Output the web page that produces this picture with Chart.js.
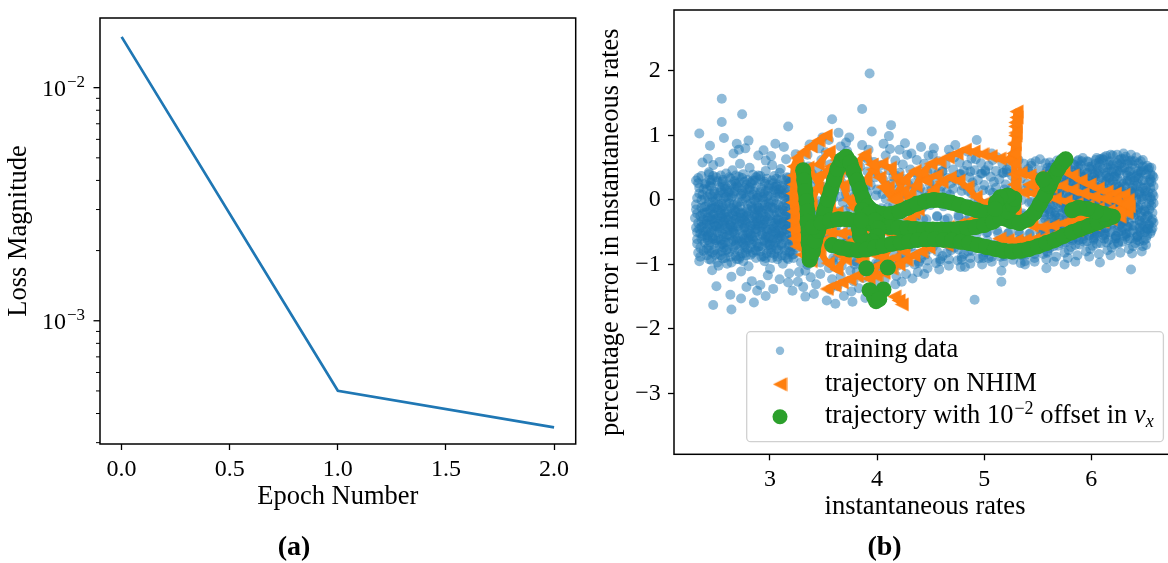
<!DOCTYPE html>
<html>
<head>
<meta charset="utf-8">
<script src="https://cdn.jsdelivr.net/npm/chart.js@4.4.1/dist/chart.umd.min.js"></script>
<style>
  html, body { margin: 0; padding: 0; background: #fff; }
  #wrap { position: relative; width: 1168px; height: 563px; overflow: hidden; }
  #lossChart { position: absolute; left: 0; top: 0; }
  #rateChart { position: absolute; left: 590px; top: 0; }
</style>
</head>
<body>
<div id="wrap">
  <canvas id="lossChart" width="600" height="563"></canvas>
  <canvas id="rateChart" width="600" height="563"></canvas>
</div>
<script>
const SERIF = "'Liberation Serif', 'Times New Roman', serif";
const TEXT_SIZE = 26.5;
Chart.defaults.font.family = SERIF;
Chart.defaults.font.size = 24;
Chart.defaults.color = '#000';

// ---- (a) training loss ----
const epochs = [0, 1, 2];
const lossValues = [0.01652, 0.000501, 0.000349];
const epochTicks = [0, 0.5, 1, 1.5, 2];
const lossMajorTicks = [1e-3, 1e-2];
const lossMinorTicks = [3e-4, 4e-4, 5e-4, 6e-4, 7e-4, 8e-4, 9e-4,
                        2e-3, 3e-3, 4e-3, 5e-3, 6e-3, 7e-3, 8e-3, 9e-3];

// ---- (b) percentage error vs instantaneous rate ----
const rateTicks = [3, 4, 5, 6];
const errorTicks = [-3, -2, -1, 0, 1, 2];

const trainingPoints = [
  [2.31,-0.07],[2.33,-0.36],[2.32,-0.61],[2.34,0.19],[2.35,-0.74],[2.36,0.37],[2.37,-0.22],[2.38,-0.49],[2.39,0.02],[2.35,-0.88],[2.38,-0.31],[2.33,0.26],[2.34,1.03],[2.37,0.58],[2.31,-0.43],[2.36,-0.12],
  [2.41,-0.58],[2.44,0.09],[2.42,-0.27],[2.43,0.43],[2.47,-0.13],[2.45,-0.93],[2.41,-0.19],[2.48,-0.47],[2.46,0.31],[2.43,-0.79],[2.49,-0.02],[2.44,-0.38],[2.46,-1.09],[2.42,0.64],[2.48,-0.68],[2.45,0.2],[2.41,-0.86],[2.47,0.54],[2.44,0.84],[2.47,-1.63],[2.49,-0.29],[2.43,-0.52],
  [2.52,-0.24],[2.51,0.29],[2.55,-0.69],[2.57,0.03],[2.53,-0.44],[2.58,0.17],[2.56,-0.91],[2.51,-0.15],[2.59,0.41],[2.54,-0.33],[2.52,-1.02],[2.57,-0.57],[2.55,-0.06],[2.53,0.59],[2.59,-0.78],[2.56,0.24],[2.5,-1.34],[2.58,-0.4],[2.55,1.57],[2.55,1.21],[2.57,0.96],[2.54,-0.62],[2.51,-0.83],
  [2.63,-0.39],[2.61,0.11],[2.66,-0.73],[2.62,0.35],[2.68,-0.18],[2.64,-0.97],[2.67,-0.3],[2.69,0.22],[2.6,-0.54],[2.65,0.46],[2.62,-0.05],[2.68,-0.87],[2.64,-1.19],[2.66,0.72],[2.61,-0.26],[2.69,-0.63],[2.63,-1.47],[2.67,0.13],[2.64,-1.7],[2.69,0.87],[2.6,-0.99],[2.66,-0.45],
  [2.72,-0.21],[2.76,-0.6],[2.71,0.27],[2.74,-0.83],[2.78,0.04],[2.7,-0.41],[2.75,0.4],[2.73,-1.11],[2.79,-0.14],[2.77,-0.71],[2.72,0.56],[2.76,-0.32],[2.78,-1.35],[2.71,0.78],[2.74,0.14],[2.79,-0.51],[2.73,-1.53],[2.75,-0.95],[2.74,1.33],[2.77,0.8],[2.7,-0.04],[2.78,-0.25],
  [2.84,-0.37],[2.81,0.16],[2.87,-0.79],[2.83,-0.1],[2.89,0.38],[2.82,-0.53],[2.86,-0.23],[2.8,-1.03],[2.88,0.07],[2.85,-0.64],[2.81,0.5],[2.87,-0.45],[2.83,-1.26],[2.89,0.69],[2.86,-0.01],[2.82,-0.85],[2.88,-1.41],[2.84,0.3],[2.8,0.92],[2.86,-0.58],[2.85,-1.59],[2.89,-0.17],
  [2.93,-0.16],[2.97,-0.67],[2.91,0.32],[2.95,-0.95],[2.99,-0.05],[2.92,-0.42],[2.96,0.45],[2.98,-1.17],[2.9,-0.28],[2.94,0.1],[2.99,-0.76],[2.93,-0.54],[2.96,0.61],[2.91,-1.32],[2.98,-0.11],[2.95,0.25],[2.97,-0.34],[2.92,-0.88],[2.94,0.77],[2.96,-1.49],[2.99,0.18],
  [3.02,-0.49],[3.06,0.21],[3.01,-0.82],[3.04,-0.13],[3.09,0.42],[3.03,-0.6],[3.07,-0.3],[3.0,-1.07],[3.05,0.05],[3.08,-0.71],[3.02,0.54],[3.06,-0.38],[3.09,-1.23],[3.01,0.68],[3.04,0.15],[3.07,-0.92],[3.03,-1.38],[3.08,-0.08],[3.05,0.87],[3.0,-0.56],[3.06,-0.2],
  [3.14,-0.25],[3.11,-0.68],[3.17,0.34],[3.12,-0.99],[3.19,-0.03],[3.15,-0.45],[3.1,0.48],[3.18,-1.14],[3.13,-0.34],[3.16,0.12],[3.19,-0.8],[3.11,-0.57],[3.15,0.63],[3.17,-1.28],[3.12,-0.15],[3.18,0.26],[3.14,-0.4],[3.16,-0.9],[3.13,0.82],[3.17,1.14],
  [3.22,-0.44],[3.26,0.19],[3.21,-0.85],[3.28,-0.09],[3.24,0.45],[3.29,-0.62],[3.23,-0.26],[3.27,-1.12],[3.2,0.08],[3.25,-0.74],[3.28,0.58],[3.22,-0.35],[3.26,-1.27],[3.24,0.71],[3.29,-0.97],[3.21,-1.41],
  [3.33,-0.31],[3.37,-0.7],[3.31,0.37],[3.35,-1.01],[3.39,0.01],[3.32,-0.49],[3.36,0.52],[3.38,-1.2],[3.3,-0.17],[3.34,0.15],[3.39,-0.86],[3.35,0.7],[3.31,-1.35],[3.37,0.86],[3.33,-1.5],
  [3.43,-0.5],[3.46,0.24],[3.41,-0.9],[3.48,-0.06],[3.44,0.47],[3.49,-0.67],[3.42,-0.24],[3.47,-1.15],[3.4,0.1],[3.45,-0.79],[3.48,0.62],[3.43,-1.31],[3.46,0.8],[3.41,-1.46],[3.49,0.97],
  [3.52,-0.32],[3.57,-0.75],[3.51,0.41],[3.55,-1.06],[3.59,0.03],[3.53,-0.53],[3.56,0.55],[3.58,-1.23],[3.5,-0.2],[3.54,0.18],[3.59,-0.9],[3.52,0.74],[3.56,-1.39],[3.58,1.25],[3.55,0.93],[3.53,-1.56],
  [3.63,-0.51],[3.67,0.27],[3.61,-0.93],[3.68,-0.04],[3.64,0.5],[3.69,-0.68],[3.62,-0.22],[3.66,-1.18],[3.6,0.12],[3.65,-0.82],[3.68,0.65],[3.63,-1.34],[3.66,0.83],[3.69,-1.49],[3.64,1.04],[3.61,-1.61],
  [3.72,-0.35],[3.76,-0.78],[3.71,0.42],[3.75,-1.1],[3.79,0.05],[3.73,-0.56],[3.77,0.58],[3.78,-1.26],[3.7,-0.16],[3.74,0.21],[3.79,-0.95],[3.72,0.76],[3.76,-1.42],[3.74,0.97],[3.77,-1.58],[3.71,0.89],
  [3.83,-0.53],[3.86,0.29],[3.81,-0.96],[3.88,0.0],[3.84,0.52],[3.89,-0.7],[3.82,-0.19],[3.87,-1.21],[3.8,0.14],[3.85,-0.84],[3.88,0.67],[3.83,-1.37],[3.86,0.85],[3.86,1.41],[3.89,-1.52],[3.81,-1.11],
  [3.92,-0.37],[3.96,-0.81],[3.91,0.44],[3.95,-1.13],[3.99,0.07],[3.93,-0.58],[3.97,0.59],[3.98,-1.29],[3.9,-0.14],[3.94,0.23],[3.99,-0.98],[3.92,0.78],[3.93,1.96],[3.95,1.06],[3.97,-1.44],[3.91,0.63],
  [4.03,-0.55],[4.06,0.31],[4.01,-0.99],[4.08,0.02],[4.04,0.54],[4.09,-0.72],[4.02,-0.16],[4.07,-1.24],[4.0,0.16],[4.05,-0.87],[4.08,0.69],[4.03,-1.4],[4.06,0.87],[4.04,-0.31],[4.01,-1.1],
  [4.12,-0.39],[4.16,-0.83],[4.11,0.46],[4.15,-1.05],[4.19,0.09],[4.13,-0.6],[4.17,0.61],[4.18,-1.18],[4.1,-0.12],[4.14,0.25],[4.19,-0.99],[4.12,0.79],[4.13,1.16],[4.11,0.99],[4.17,-1.31],[4.15,0.36],
  [4.23,-0.57],[4.26,0.32],[4.21,-0.93],[4.28,0.04],[4.24,0.55],[4.29,-0.74],[4.22,-0.14],[4.27,-1.15],[4.2,0.17],[4.25,-0.88],[4.28,0.7],[4.23,-1.27],[4.26,0.88],[4.24,-0.3],[4.21,0.78],
  [4.32,-0.41],[4.36,-0.84],[4.31,0.47],[4.35,-1.0],[4.39,0.11],[4.33,-0.61],[4.37,0.62],[4.38,-1.12],[4.3,-0.1],[4.34,0.26],[4.39,-0.96],[4.32,0.72],[4.36,-0.25],[4.37,0.42],[4.33,-1.22],
  [4.43,-0.59],[4.46,0.33],[4.41,-0.9],[4.48,0.06],[4.44,0.56],[4.49,-0.76],[4.42,-0.12],[4.47,-1.06],[4.4,0.19],[4.45,-0.85],[4.48,0.69],[4.43,-0.46],[4.46,-0.3],[4.41,0.82],[4.47,0.43],[4.44,-1.15],
  [4.52,-0.43],[4.56,-0.8],[4.51,0.48],[4.55,-0.98],[4.59,0.13],[4.53,-0.63],[4.57,0.6],[4.58,-1.08],[4.5,-0.08],[4.54,0.28],[4.59,-0.92],[4.52,0.7],[4.56,-0.26],[4.57,0.41],[4.53,0.8],
  [4.63,-0.61],[4.66,0.34],[4.61,-0.87],[4.68,0.08],[4.64,0.55],[4.69,-0.78],[4.62,-0.1],[4.67,-1.02],[4.6,0.21],[4.65,-0.82],[4.68,0.67],[4.63,-0.48],[4.66,-0.29],[4.61,0.45],[4.67,0.78],
  [4.72,-0.45],[4.76,-0.77],[4.71,0.47],[4.75,-0.94],[4.79,0.14],[4.73,-0.65],[4.77,0.58],[4.78,-1.04],[4.7,-0.06],[4.74,0.3],[4.79,-0.89],[4.72,0.66],[4.76,-0.27],[4.77,0.4],[4.73,0.85],
  [4.83,-0.62],[4.86,0.35],[4.81,-0.84],[4.88,0.1],[4.84,0.54],[4.89,-0.79],[4.82,-0.08],[4.87,-0.99],[4.8,0.22],[4.85,-0.8],[4.88,0.64],[4.83,-0.49],[4.86,-0.28],[4.82,-1.04],[4.87,0.44],[4.84,0.75],
  [4.92,-0.46],[4.96,-0.74],[4.91,0.46],[4.95,-0.91],[4.99,0.15],[4.93,-0.66],[4.97,0.57],[4.98,-1.0],[4.9,-0.04],[4.94,0.31],[4.99,-0.86],[4.92,0.63],[4.96,-0.26],[4.91,-1.55],[4.97,0.41],[4.93,0.93],
  [5.03,-0.63],[5.06,0.36],[5.01,-0.81],[5.08,0.11],[5.04,0.53],[5.09,-0.77],[5.02,-0.06],[5.07,-0.96],[5.0,0.23],[5.05,-0.78],[5.08,0.62],[5.03,-0.5],[5.06,-0.27],[5.01,0.44],[5.07,0.72],[5.04,-0.9],
  [5.12,-0.47],[5.16,-0.72],[5.11,0.45],[5.15,-0.88],[5.19,0.16],[5.13,-0.64],[5.17,0.56],[5.18,-0.97],[5.1,-0.03],[5.14,0.32],[5.19,-0.84],[5.16,-1.1],[5.16,-1.27],[5.13,-0.25],[5.17,0.42],[5.12,0.66],
  [5.23,-0.64],[5.26,0.37],[5.21,-0.79],[5.28,0.12],[5.24,0.52],[5.29,-0.75],[5.22,-0.05],[5.27,-0.93],[5.2,0.24],[5.25,-0.76],[5.28,0.61],[5.23,-0.51],[5.26,-0.26],[5.21,0.43],[5.27,0.7],
  [5.32,-0.48],[5.36,-0.7],[5.31,0.45],[5.35,-0.86],[5.39,0.17],[5.33,-0.62],[5.37,0.56],[5.38,-0.95],[5.3,-0.02],[5.34,0.33],[5.39,-0.82],[5.32,0.62],[5.36,-0.24],[5.38,-1.0],[5.34,-0.98],
  [5.43,-0.65],[5.46,0.38],[5.41,-0.77],[5.48,0.13],[5.44,0.53],[5.49,-0.73],[5.42,-0.04],[5.47,-0.9],[5.4,0.25],[5.45,-0.74],[5.48,0.6],[5.43,-0.52],[5.46,-0.25],[5.41,0.44],[5.47,-0.96],[5.44,0.57],
  [5.52,-0.49],[5.56,-0.68],[5.51,0.46],[5.55,-0.84],[5.59,0.18],[5.53,-0.6],[5.57,0.57],[5.58,-0.92],[5.5,-0.01],[5.54,0.34],[5.59,-0.8],[5.52,0.63],[5.56,-0.23],[5.58,-1.06],[5.53,0.08],[5.55,-0.36],
  [5.63,-0.62],[5.66,0.39],[5.61,-0.75],[5.68,0.14],[5.64,0.54],[5.69,-0.71],[5.62,-0.03],[5.67,-0.88],[5.6,0.26],[5.65,-0.72],[5.68,0.61],[5.63,-0.53],[5.66,-0.24],[5.61,0.45],[5.67,-0.41],[5.64,0.05],[5.69,-0.12],[5.62,0.33],[5.65,-0.96],[5.6,-0.35],
  [5.72,-0.5],[5.76,-0.66],[5.71,0.47],[5.75,-0.82],[5.79,0.19],[5.73,-0.58],[5.77,0.58],[5.78,-0.9],[5.7,0.0],[5.74,0.35],[5.79,-0.78],[5.72,0.64],[5.76,-0.22],[5.71,-0.35],[5.77,0.1],[5.75,-1.0],[5.73,0.27],[5.78,-0.1],[5.74,-0.45],[5.7,0.52],[5.79,-0.6],
  [5.83,-0.6],[5.86,0.4],[5.81,-0.73],[5.88,0.15],[5.84,0.55],[5.89,-0.69],[5.82,-0.02],[5.87,-0.86],[5.8,0.27],[5.85,-0.7],[5.88,0.62],[5.83,-0.54],[5.86,-0.23],[5.81,0.46],[5.87,-0.39],[5.84,0.06],[5.89,-0.13],[5.82,0.34],[5.85,-0.96],[5.8,-0.46],[5.88,-0.3],[5.86,0.22],
  [5.92,-0.51],[5.96,-0.64],[5.91,0.48],[5.95,-0.8],[5.99,0.2],[5.93,-0.56],[5.97,0.59],[5.98,-0.88],[5.9,0.01],[5.94,0.36],[5.99,-0.76],[5.92,0.65],[5.96,-0.21],[5.91,-0.34],[5.97,0.11],[5.95,-0.03],[5.93,0.28],[5.98,-0.09],[5.94,-0.42],[5.9,0.54],[5.99,-0.25],[5.96,0.42],
  [6.03,-0.58],[6.06,0.41],[6.01,-0.71],[6.08,0.16],[6.04,0.56],[6.09,-0.67],[6.02,-0.01],[6.07,-0.84],[6.0,0.28],[6.05,-0.68],[6.08,0.63],[6.03,-0.55],[6.06,-0.22],[6.01,0.47],[6.07,-0.38],[6.04,0.07],[6.09,-0.14],[6.02,0.35],[6.05,-0.45],[6.0,0.52],[6.08,-0.97],[6.06,-0.3],
  [6.12,-0.52],[6.16,-0.62],[6.11,0.49],[6.15,-0.78],[6.19,0.21],[6.13,-0.54],[6.17,0.6],[6.18,-0.86],[6.1,0.02],[6.14,0.37],[6.19,-0.74],[6.12,0.66],[6.16,-0.2],[6.11,-0.33],[6.17,0.12],[6.15,-0.04],[6.13,0.29],[6.18,-0.08],[6.14,-0.43],[6.1,0.64],[6.19,0.44],[6.16,-0.28],
  [6.23,-0.56],[6.26,0.42],[6.21,-0.69],[6.28,0.17],[6.24,0.57],[6.29,-0.65],[6.22,0.0],[6.27,-0.82],[6.2,0.29],[6.25,-0.66],[6.28,0.64],[6.23,-0.56],[6.26,-0.21],[6.21,0.48],[6.27,-0.37],[6.24,0.08],[6.29,-0.15],[6.22,0.36],[6.25,-0.44],[6.2,0.69],[6.28,-0.3],[6.26,0.55],
  [6.32,-0.53],[6.36,-0.6],[6.31,0.5],[6.35,-0.76],[6.39,0.22],[6.33,-0.52],[6.37,0.61],[6.38,-0.83],[6.3,0.03],[6.34,0.38],[6.39,-0.72],[6.32,0.67],[6.36,-0.19],[6.31,-0.32],[6.37,0.13],[6.35,-0.05],[6.33,0.3],[6.38,-0.07],[6.34,-0.42],[6.3,0.72],[6.37,-1.08],[6.36,0.45],
  [6.43,-0.55],[6.46,0.43],[6.41,-0.67],[6.48,0.18],[6.44,0.57],[6.49,-0.63],[6.42,0.01],[6.47,-0.8],[6.4,0.3],[6.45,-0.64],[6.48,0.62],[6.43,-0.57],[6.46,-0.2],[6.41,0.49],[6.47,-0.36],[6.44,0.09],[6.49,-0.16],[6.42,0.37],[6.45,-0.43],[6.4,-0.28],[6.48,-0.72],[6.42,0.66],
  [6.52,-0.45],[6.55,0.32],[6.51,-0.6],[6.57,0.1],[6.53,0.47],[6.56,-0.33],[6.54,-0.05],[6.58,0.21],[6.5,-0.18],[6.55,-0.52],[6.52,0.53],[6.57,0.38],[6.53,-0.24],[6.58,0.06],[6.51,-0.7],[6.56,0.0],[6.54,-0.38],[6.5,0.14],
  // dense core, low-rate side
  [2.32,-0.21],[2.35,-0.52],[2.37,0.08],[2.39,-0.66],[2.33,-0.82],[2.36,-0.34],[2.38,0.17],[2.31,0.3],[2.34,-0.45],[2.39,-0.11],[2.36,-0.6],[2.32,0.03],
  [2.41,-0.33],[2.43,-0.71],[2.45,0.27],[2.47,-0.42],[2.49,-0.85],[2.42,0.05],[2.44,-0.16],[2.46,-0.57],[2.48,0.13],[2.4,-0.48],[2.45,-0.31],[2.47,0.37],[2.43,-0.04],[2.49,-0.62],[2.41,-0.76],[2.46,-0.09],[2.44,0.22],[2.48,-0.36],[2.42,-0.55],[2.47,-0.23],
  [2.51,-0.5],[2.53,0.11],[2.55,-0.27],[2.57,-0.74],[2.59,0.05],[2.52,-0.37],[2.54,-0.86],[2.56,0.31],[2.58,-0.19],[2.5,-0.63],[2.55,-0.12],[2.57,-0.45],[2.53,0.2],[2.59,-0.58],[2.51,0.02],[2.56,-0.69],[2.54,0.38],[2.58,-0.31],[2.52,-0.08],[2.57,-0.22],
  [2.61,-0.66],[2.63,-0.11],[2.65,-0.5],[2.67,0.29],[2.69,-0.36],[2.62,-0.81],[2.64,0.04],[2.66,-0.24],[2.68,-0.59],[2.6,0.18],[2.65,-0.42],[2.67,-0.77],[2.63,0.33],[2.69,-0.07],[2.61,-0.31],[2.66,0.1],[2.64,-0.65],[2.68,0.25],[2.62,-0.47],[2.67,-0.17],
  [2.71,-0.46],[2.73,0.09],[2.75,-0.21],[2.77,-0.82],[2.79,0.31],[2.72,-0.64],[2.74,-0.37],[2.76,0.19],[2.78,-0.55],[2.7,-0.15],[2.75,-0.69],[2.77,0.02],[2.73,-0.28],[2.79,-0.76],[2.71,0.36],[2.76,-0.43],[2.74,-0.02],[2.78,0.24],[2.72,-0.88],[2.77,-0.34],
  [2.81,-0.29],[2.83,-0.68],[2.85,0.13],[2.87,-0.5],[2.89,-0.12],[2.82,0.27],[2.84,-0.82],[2.86,-0.39],[2.88,0.03],[2.8,-0.59],[2.85,-0.25],[2.87,0.35],[2.83,-0.45],[2.89,-0.73],[2.81,0.07],[2.86,-0.14],[2.84,-0.61],[2.88,-0.33],[2.82,-0.06],[2.87,0.2],
  [2.91,-0.56],[2.93,0.04],[2.95,-0.31],[2.97,-0.83],[2.99,0.23],[2.92,-0.2],[2.94,-0.64],[2.96,0.14],[2.98,-0.46],[2.9,-0.72],[2.95,-0.08],[2.97,0.33],[2.93,-0.39],[2.99,-0.6],[2.91,0.12],[2.96,-0.26],[2.94,-0.87],[2.98,0.06],[2.92,-0.49],[2.97,-0.15],
  [3.01,-0.34],[3.03,-0.7],[3.05,0.12],[3.07,-0.47],[3.09,-0.19],[3.02,0.3],[3.04,-0.84],[3.06,-0.06],[3.08,-0.58],[3.0,-0.25],[3.05,-0.66],[3.07,0.24],[3.03,-0.41],[3.09,0.08],[3.01,-0.77],[3.06,-0.52],[3.04,0.37],[3.08,-0.31],[3.02,-0.12],[3.07,-0.88],
  [3.11,-0.5],[3.13,0.06],[3.15,-0.23],[3.17,-0.73],[3.19,0.28],[3.12,-0.38],[3.14,-0.86],[3.16,-0.1],[3.18,-0.52],[3.1,0.17],[3.15,-0.63],[3.17,0.02],[3.13,-0.29],[3.19,-0.44],[3.11,-0.71],[3.16,0.35],[3.14,-0.17],[3.18,-0.81],[3.12,0.22],[3.17,-0.36],
  [3.21,-0.54],[3.23,0.13],[3.25,-0.18],[3.27,-0.69],[3.29,0.25],[3.22,-0.84],[3.24,-0.4],[3.26,-0.02],[3.28,-0.5],[3.2,-0.29],
  [2.3,-0.28],[2.32,-0.68],[2.34,0.1],[2.36,-0.42],[2.38,-0.79],[2.31,-0.15],[2.33,0.34],[2.35,-0.25],[2.37,-0.56],[2.39,0.24],[2.34,-0.95],[2.36,0.0],[2.38,-0.38],[2.32,-0.5],[2.39,-0.2],
  [2.4,-0.1],[2.42,-0.44],[2.44,-0.66],[2.46,0.05],[2.48,-0.22],[2.41,0.16],[2.43,-0.92],[2.45,-0.5],[2.47,-0.02],[2.49,-0.4],[2.42,-0.62],[2.44,0.31],[2.46,-0.3],[2.48,-0.78],[2.4,0.26],[2.45,-0.14],[2.47,-0.6],[2.43,0.4],[2.49,-0.12],[2.41,-0.37],[2.46,-0.82],[2.44,-0.27],[2.48,0.09],
  [2.5,-0.41],[2.52,0.06],[2.54,-0.16],[2.56,-0.53],[2.58,-0.9],[2.51,-0.29],[2.53,-0.72],[2.55,0.28],[2.57,-0.34],[2.59,-0.05],[2.52,-0.6],[2.54,0.15],[2.56,-0.1],[2.58,-0.66],[2.5,0.35],[2.55,-0.8],[2.57,0.1],[2.53,-0.48],[2.59,-0.27],[2.51,-0.97],[2.56,-0.38],[2.54,-0.21],[2.58,0.21],
  [2.6,-0.19],[2.62,-0.55],[2.64,0.24],[2.66,-0.08],[2.68,-0.7],[2.61,-0.43],[2.63,-0.88],[2.65,0.06],[2.67,-0.52],[2.69,-0.26],[2.62,0.14],[2.64,-0.34],[2.66,-0.63],[2.68,0.38],[2.6,-0.77],[2.65,-0.21],[2.67,0.19],[2.63,-0.4],[2.69,-0.92],[2.61,0.03],[2.66,-0.49],[2.64,-0.13],[2.68,-0.31],
  [2.7,-0.6],[2.72,-0.1],[2.74,-0.48],[2.76,0.28],[2.78,-0.36],[2.71,-0.78],[2.73,-0.2],[2.75,0.1],[2.77,-0.62],[2.79,-0.07],[2.72,-0.33],[2.74,0.34],[2.76,-0.74],[2.78,-0.19],[2.7,0.2],[2.75,-0.55],[2.77,-0.42],[2.73,0.06],[2.79,0.17],[2.71,-0.92],[2.76,-0.27],[2.74,-0.66],[2.78,-0.86],
  [2.8,-0.21],[2.82,-0.74],[2.84,0.08],[2.86,-0.46],[2.88,-0.24],[2.81,-0.62],[2.83,0.25],[2.85,-0.33],[2.87,-0.9],[2.89,0.04],[2.82,-0.4],[2.84,-0.15],[2.86,0.3],[2.88,-0.68],[2.8,-0.48],[2.85,0.0],[2.87,-0.28],[2.83,-0.56],[2.89,-0.37],[2.81,0.19],[2.86,-0.78],[2.84,0.39],[2.88,-0.1],
  [2.9,-0.4],[2.92,0.18],[2.94,-0.22],[2.96,-0.58],[2.98,-0.3],[2.91,-0.8],[2.93,-0.06],[2.95,0.28],[2.97,-0.49],[2.99,-0.7],[2.92,-0.31],[2.94,0.0],[2.96,-0.9],[2.98,0.14],[2.9,-0.13],[2.95,-0.62],[2.97,0.04],[2.93,-0.72],[2.99,-0.2],[2.91,0.37],[2.96,-0.44],[2.94,-0.37],[2.98,-0.57],
  [3.0,-0.1],[3.02,-0.63],[3.04,0.2],[3.06,-0.3],[3.08,-0.78],[3.01,-0.45],[3.03,-0.02],[3.05,-0.5],[3.07,0.1],[3.09,-0.38],[3.02,-0.9],[3.04,-0.24],[3.06,0.33],[3.08,-0.16],[3.0,-0.7],[3.05,-0.36],[3.07,-0.61],[3.03,0.26],[3.09,-0.52],[3.01,0.0],[3.06,-0.76],[3.04,-0.44],[3.08,0.16],
  [3.1,-0.36],[3.12,0.1],[3.14,-0.58],[3.16,-0.27],[3.18,0.05],[3.11,-0.86],[3.13,-0.48],[3.15,0.3],[3.17,-0.18],[3.19,-0.62],[3.12,-0.1],[3.14,-0.78],[3.16,0.2],[3.18,-0.41],[3.1,-0.56],[3.15,-0.05],[3.17,-0.92],[3.13,0.15],[3.19,-0.3],[3.11,0.32],[3.16,-0.46],[3.14,0.0],[3.18,-0.7],
  [3.2,-0.6],[3.22,-0.16],[3.24,0.25],[3.21,-0.72],[3.23,-0.38],[3.25,0.02],[3.2,0.3],[3.22,-0.9],[3.24,-0.52],[3.21,-0.08],[3.23,0.4],[3.25,-0.3],
  // middle rates
  [3.32,-0.58],[3.36,-0.24],[3.38,0.22],[3.34,-0.79],[3.31,0.05],[3.37,-0.42],[3.33,-1.1],[3.39,0.41],
  [3.42,-0.36],[3.45,-0.02],[3.48,-0.55],[3.41,0.33],[3.47,-0.97],[3.44,-0.17],[3.49,0.2],[3.43,-0.7],
  [3.51,-0.62],[3.54,-0.09],[3.57,0.3],[3.53,-0.41],[3.59,-0.98],[3.56,-0.25],[3.52,0.1],[3.58,-0.55],
  [3.62,-0.4],[3.65,0.05],[3.68,-0.63],[3.61,0.36],[3.67,-1.02],[3.64,-0.18],[3.69,0.18],[3.63,-0.75],
  [3.72,-0.65],[3.75,-0.12],[3.78,0.33],[3.73,-0.44],[3.79,-1.0],[3.76,-0.28],[3.71,0.09],[3.77,-0.6],
  [3.82,-0.43],[3.85,0.07],[3.88,-0.66],[3.81,0.38],[3.87,-1.05],[3.84,-0.15],[3.89,0.2],[3.83,-0.8],
  [3.92,-0.68],[3.95,-0.1],[3.98,0.35],[3.93,-0.46],[3.99,-1.04],[3.96,-0.3],[3.91,0.11],[3.97,-0.62],
  [4.02,-0.45],[4.05,0.09],[4.08,-0.68],[4.01,0.4],[4.07,-1.0],[4.04,-0.13],[4.09,0.22],[4.03,-0.82],
  [4.12,-0.7],[4.15,-0.08],[4.18,0.37],[4.13,-0.48],[4.19,-1.02],[4.16,-0.28],[4.11,0.13],[4.17,-0.63],
  [4.22,-0.47],[4.25,0.1],[4.28,-0.7],[4.21,0.42],[4.27,-0.97],[4.24,-0.11],[4.29,0.24],[4.23,-0.83],
  [4.32,-0.72],[4.35,-0.06],[4.38,0.38],[4.33,-0.49],[4.39,-0.98],[4.36,-0.27],[4.31,0.14],[4.37,-0.64],
  [4.42,-0.48],[4.45,0.12],[4.48,-0.71],[4.41,0.43],[4.47,-0.94],[4.44,-0.09],[4.49,0.25],[4.43,-0.3],
  [4.52,-0.73],[4.55,-0.04],[4.58,0.39],[4.53,-0.5],[4.59,-0.95],[4.56,-0.25],[4.51,0.16],[4.57,-0.66],
  [4.62,-0.49],[4.65,0.13],[4.68,-0.72],[4.61,0.44],[4.67,-0.92],[4.64,-0.07],[4.69,0.26],[4.63,-0.31],
  [4.72,-0.74],[4.75,-0.03],[4.78,0.4],[4.73,-0.51],[4.79,-0.93],[4.76,-0.24],[4.71,0.17],[4.77,-0.67],
  [4.82,-0.5],[4.85,0.14],[4.88,-0.72],[4.81,0.45],[4.87,-0.9],[4.84,-0.06],[4.89,0.27],[4.83,-0.32],
  [4.92,-0.73],[4.95,-0.02],[4.98,0.41],[4.93,-0.52],[4.99,-0.9],[4.96,-0.23],[4.91,0.18],[4.97,-0.66],
  [5.02,-0.51],[5.05,0.15],[5.08,-0.7],[5.01,0.46],[5.07,-0.88],[5.04,-0.05],[5.09,0.28],[5.03,-0.33],
  [5.12,-0.71],[5.15,-0.01],[5.18,0.42],[5.13,-0.52],[5.19,-0.87],[5.16,-0.22],[5.11,0.19],[5.17,-0.65],
  [5.22,-0.52],[5.25,0.16],[5.28,-0.69],[5.21,0.47],[5.27,-0.86],[5.24,-0.04],[5.29,0.29],[5.23,-0.34],
  [5.32,-0.7],[5.35,0.0],[5.38,0.43],[5.33,-0.53],[5.39,-0.85],[5.36,-0.21],[5.31,0.2],[5.37,-0.64],
  [5.42,-0.53],[5.45,0.17],[5.48,-0.68],[5.41,0.48],[5.47,-0.84],[5.44,-0.03],[5.49,0.3],[5.43,-0.35],
  [5.52,-0.69],[5.55,0.01],[5.58,0.44],[5.53,-0.54],[5.59,-0.82],[5.56,-0.2],[5.51,0.21],[5.57,-0.45],
  // dense core, high-rate side
  [5.61,-0.22],[5.63,0.21],[5.65,-0.48],[5.67,0.47],[5.69,-0.05],[5.62,-0.6],[5.64,0.12],[5.66,-0.31],[5.68,0.36],[5.6,0.02],[5.65,-0.17],[5.67,0.29],[5.63,-0.44],[5.69,0.55],[5.61,-0.07],[5.66,-0.55],
  [5.71,0.15],[5.73,-0.41],[5.75,0.39],[5.77,-0.26],[5.79,0.04],[5.72,-0.63],[5.74,0.23],[5.76,-0.14],[5.78,0.49],[5.7,-0.49],[5.75,-0.03],[5.77,0.31],[5.73,-0.2],[5.79,-0.37],[5.71,0.56],[5.76,0.08],
  [5.81,-0.31],[5.83,0.18],[5.85,-0.5],[5.87,0.42],[5.89,0.0],[5.82,-0.63],[5.84,0.3],[5.86,-0.16],[5.88,0.52],[5.8,0.09],[5.85,-0.38],[5.87,-0.06],[5.83,0.38],[5.89,-0.47],[5.81,-0.19],[5.86,0.12],
  [5.91,0.19],[5.93,-0.45],[5.95,0.41],[5.97,-0.28],[5.99,0.07],[5.92,-0.61],[5.94,0.26],[5.96,-0.12],[5.98,0.51],[5.9,-0.36],[5.95,-0.01],[5.97,0.33],[5.93,-0.19],[5.99,-0.5],[5.91,0.6],[5.96,0.15],
  [6.01,-0.27],[6.03,0.22],[6.05,-0.53],[6.07,0.44],[6.09,0.03],[6.02,-0.62],[6.04,0.32],[6.06,-0.12],[6.08,0.55],[6.0,0.1],[6.05,-0.35],[6.07,-0.02],[6.03,0.39],[6.09,-0.45],[6.01,-0.16],[6.06,0.19],[6.04,0.62],
  [6.11,0.2],[6.13,-0.44],[6.15,0.43],[6.17,-0.25],[6.19,0.09],[6.12,-0.6],[6.14,0.28],[6.16,-0.11],[6.18,0.54],[6.1,-0.35],[6.15,0.0],[6.17,0.35],[6.13,-0.17],[6.19,-0.48],[6.11,0.62],[6.16,0.14],[6.14,0.68],
  [6.21,-0.24],[6.23,0.24],[6.25,-0.5],[6.27,0.46],[6.29,0.05],[6.22,-0.6],[6.24,0.33],[6.26,-0.09],[6.28,0.57],[6.2,0.12],[6.25,-0.33],[6.27,0.0],[6.23,0.41],[6.29,-0.43],[6.21,-0.13],[6.26,0.2],[6.24,0.7],
  [6.31,0.21],[6.33,-0.41],[6.35,0.44],[6.37,-0.23],[6.39,0.1],[6.32,-0.57],[6.34,0.29],[6.36,-0.1],[6.38,0.55],[6.3,-0.34],[6.35,0.01],[6.37,0.36],[6.33,-0.16],[6.39,-0.47],[6.31,0.63],[6.36,0.15],
  [6.41,-0.23],[6.43,0.25],[6.45,-0.48],[6.47,0.45],[6.49,0.06],[6.42,-0.58],[6.44,0.34],[6.46,-0.08],[6.48,0.52],[6.4,0.11],[6.45,-0.32],[6.47,0.01],[6.43,0.4],[6.49,-0.4],[6.41,-0.12],[6.46,0.2],
  [6.51,0.19],[6.53,-0.39],[6.55,0.4],[6.57,-0.2],[6.52,-0.55],[6.54,0.27],[6.56,-0.09],[6.58,0.35],[6.5,-0.3],[6.55,0.04],[6.57,-0.44],[6.53,0.12],[6.51,-0.1],[6.56,0.5],
  [5.55,0.25],[5.57,-0.3],[5.59,0.5],[5.56,-0.12],[5.58,0.1],[5.55,-0.5],[5.57,0.38],[5.59,-0.62],
  [5.6,0.4],[5.62,-0.18],[5.64,-0.62],[5.66,0.22],[5.68,-0.28],[5.61,0.58],[5.63,0.02],[5.65,-0.4],[5.67,0.12],[5.69,-0.56],[5.62,0.5],[5.64,-0.08],[5.66,0.32],[5.68,-0.65],[5.6,-0.15],[5.65,0.44],[5.67,-0.2],[5.63,-0.3],
  [5.7,-0.28],[5.72,0.33],[5.74,-0.12],[5.76,0.5],[5.78,-0.44],[5.71,0.05],[5.73,-0.68],[5.75,0.2],[5.77,-0.32],[5.79,0.42],[5.72,-0.05],[5.74,-0.55],[5.76,0.25],[5.78,0.6],[5.7,0.12],[5.75,-0.4],[5.77,-0.15],[5.73,0.45],
  [5.8,0.36],[5.82,-0.4],[5.84,0.14],[5.86,-0.58],[5.88,0.3],[5.81,-0.1],[5.83,0.55],[5.85,-0.27],[5.87,0.06],[5.89,-0.5],[5.82,0.22],[5.84,-0.2],[5.86,0.46],[5.88,-0.62],[5.8,-0.34],[5.85,0.0],[5.87,0.6],[5.83,-0.48],
  [5.9,-0.2],[5.92,0.35],[5.94,-0.5],[5.96,0.05],[5.98,-0.33],[5.91,0.24],[5.93,-0.65],[5.95,0.15],[5.97,-0.1],[5.99,0.48],[5.92,-0.42],[5.94,-0.05],[5.96,0.6],[5.98,-0.55],[5.9,0.4],[5.95,-0.28],[5.97,0.25],[5.93,0.06],
  [6.0,-0.4],[6.02,0.15],[6.04,-0.25],[6.06,0.5],[6.08,-0.5],[6.01,0.3],[6.03,-0.1],[6.05,0.65],[6.07,-0.32],[6.09,0.22],[6.02,-0.6],[6.04,0.42],[6.06,-0.04],[6.08,0.36],[6.0,-0.05],[6.05,0.08],[6.07,0.58],[6.03,-0.48],
  [6.1,0.3],[6.12,-0.3],[6.14,0.1],[6.16,0.55],[6.18,-0.2],[6.11,-0.55],[6.13,0.42],[6.15,-0.12],[6.17,0.24],[6.19,-0.38],[6.12,0.02],[6.14,-0.66],[6.16,0.34],[6.18,0.7],[6.1,-0.1],[6.15,0.5],[6.17,-0.5],[6.13,-0.22],
  [6.2,-0.36],[6.22,0.2],[6.24,-0.15],[6.26,0.62],[6.28,-0.48],[6.21,0.36],[6.23,-0.6],[6.25,0.1],[6.27,-0.25],[6.29,0.5],[6.22,-0.05],[6.24,0.45],[6.26,-0.4],[6.28,0.28],[6.2,0.55],[6.25,-0.68],[6.27,0.15],[6.23,-0.1],
  [6.3,0.25],[6.32,-0.26],[6.34,0.56],[6.36,-0.5],[6.38,0.18],[6.31,-0.12],[6.33,0.42],[6.35,-0.35],[6.37,0.7],[6.39,-0.2],[6.32,0.1],[6.34,-0.62],[6.36,0.3],[6.38,-0.4],[6.3,-0.55],[6.35,0.6],[6.37,0.0],[6.33,-0.05],
  [6.4,-0.4],[6.42,0.22],[6.44,-0.12],[6.46,0.6],[6.48,-0.45],[6.41,0.35],[6.43,-0.62],[6.45,0.12],[6.47,-0.26],[6.49,0.46],[6.42,-0.02],[6.44,0.45],[6.46,-0.5],[6.48,0.3],[6.4,0.6],[6.45,-0.33],[6.47,0.05],[6.43,-0.15],
  [6.5,0.3],[6.52,-0.25],[6.54,0.5],[6.56,-0.48],[6.58,-0.05],[6.51,0.4],[6.53,-0.45],[6.55,0.18],[6.57,-0.3],[6.5,-0.5],[6.52,0.05],[6.54,-0.15],[6.56,0.28],[6.58,-0.35]
];

// trajectory on the NHIM, split where the sampled path jumps
const nhimTrajectory = [
  [[3.52,1.0],[3.45,0.92],[3.38,0.83],[3.31,0.74],[3.25,0.65],[3.22,0.52],[3.22,0.38],[3.22,0.24],[3.21,0.1],[3.21,-0.04],[3.22,-0.18],[3.22,-0.32],[3.22,-0.46],[3.23,-0.6],[3.25,-0.72]],
  [[3.28,-0.62],[3.33,-0.35],[3.38,-0.08],[3.44,0.18],[3.5,0.4],[3.57,0.52],[3.63,0.42],[3.68,0.22],[3.73,0.0],[3.78,-0.12],[3.83,0.08],[3.89,0.3],[3.96,0.47],[4.04,0.56],[4.12,0.5],[4.18,0.34],[4.24,0.14],[4.3,0.02],[4.36,0.22],[4.42,0.42],[4.5,0.56],[4.58,0.6]],
  [[4.66,0.66],[4.74,0.72],[4.82,0.78],[4.9,0.75],[4.98,0.71],[5.06,0.68],[5.14,0.64],[5.22,0.62],[5.27,0.72],[5.28,0.86],[5.29,1.0],[5.29,1.14],[5.3,1.28],[5.3,1.37],[5.29,1.2],[5.29,1.04],[5.28,0.88],[5.28,0.72],[5.28,0.56],[5.28,0.4],[5.28,0.24],[5.28,0.08],[5.28,-0.08],[5.28,-0.22],[5.28,-0.3]],
  [[5.34,0.42],[5.42,0.38],[5.5,0.36],[5.58,0.38],[5.66,0.42],[5.74,0.45],[5.82,0.38],[5.9,0.3],[5.98,0.24],[6.06,0.18],[6.14,0.13],[6.22,0.1],[6.3,0.08],[6.34,0.0],[6.35,-0.1],[6.33,-0.2],[6.26,-0.26],[6.18,-0.3],[6.1,-0.34],[6.02,-0.38],[5.94,-0.42],[5.86,-0.47],[5.78,-0.51],[5.7,-0.54],[5.62,-0.57],[5.54,-0.59],[5.46,-0.61],[5.38,-0.62],[5.3,-0.63],[5.22,-0.62],[5.14,-0.6]],
  [[5.36,0.12],[5.46,0.1],[5.56,0.06],[5.66,0.02],[5.76,-0.02],[5.86,-0.06],[5.96,-0.1],[6.06,-0.13],[6.16,-0.16],[6.26,-0.15],[6.3,-0.06],[6.22,0.0],[6.12,0.02],[6.02,0.05],[5.92,0.1],[5.82,0.16],[5.72,0.22],[5.62,0.2],[5.52,0.22],[5.42,0.24]],
  [[5.34,-0.3],[5.44,-0.4],[5.54,-0.42],[5.64,-0.4],[5.74,-0.36],[5.84,-0.32],[5.94,-0.28],[6.04,-0.25],[6.14,-0.24]],
  [[3.36,-0.42],[3.46,-0.46],[3.56,-0.5],[3.66,-0.52],[3.76,-0.5],[3.86,-0.45],[3.96,-0.44],[4.06,-0.48],[4.16,-0.52],[4.26,-0.55],[4.36,-0.54],[4.46,-0.5],[4.56,-0.46],[4.66,-0.42],[4.76,-0.38],[4.86,-0.33],[4.96,-0.28],[5.06,-0.22],[5.16,-0.16]],
  [[3.53,-1.38],[3.6,-1.33],[3.67,-1.28],[3.74,-1.23],[3.81,-1.18],[3.88,-1.12],[3.95,-1.07],[4.02,-1.01],[4.09,-0.95],[4.16,-0.9]],
  [[3.92,-1.22],[3.99,-1.18],[4.06,-1.13],[4.13,-1.06],[4.2,-1.0],[4.27,-0.93],[4.34,-0.86],[4.41,-0.8],[4.48,-0.74]],
  [[4.16,-1.5],[4.2,-1.56],[4.23,-1.62]],
  [[3.3,-0.85],[3.38,-0.95],[3.46,-0.8],[3.54,-0.98],[3.62,-1.08],[3.7,-0.92],[3.78,-0.8],[3.86,-0.9],[3.94,-0.82]],
  [[3.45,-0.7],[3.55,-0.6],[3.65,-0.85],[3.75,-0.65],[3.85,-0.95],[3.95,-0.75],[4.05,-0.9],[4.15,-0.7],[4.25,-0.8],[4.35,-0.6],[4.45,-0.7],[4.55,-0.62],[4.65,-0.7]],
  [[3.45,0.55],[3.55,0.75],[3.62,0.62],[3.7,0.45],[3.8,0.55],[3.88,0.7],[3.95,0.55],[4.02,0.35],[4.1,0.2],[4.18,0.05],[4.26,-0.1],[4.34,-0.2]],
  [[4.3,-0.3],[4.38,-0.15],[4.45,0.0],[4.52,0.15],[4.6,0.28],[4.68,0.35],[4.76,0.3],[4.84,0.2],[4.92,0.05],[5.0,-0.05]],
  [[3.26,0.1],[3.3,0.3],[3.35,0.5],[3.42,0.35],[3.48,0.15],[3.55,-0.05],[3.62,-0.2],[3.7,-0.3]],
  [[4.05,0.2],[4.15,0.0],[4.25,0.3],[4.35,0.45],[4.45,0.3],[4.55,0.38]]
];

// trajectory started with a 1e-2 offset in v_x
const offsetTrajectory = [
  [[3.31,0.46],[3.32,0.3],[3.33,0.14],[3.34,-0.02],[3.35,-0.18],[3.35,-0.34],[3.36,-0.5],[3.36,-0.66],[3.37,-0.8],[3.37,-0.93],[3.4,-0.8],[3.42,-0.64],[3.45,-0.48],[3.48,-0.32],[3.51,-0.16],[3.54,0.0],[3.57,0.16],[3.6,0.32],[3.63,0.48],[3.67,0.62],[3.71,0.67],[3.75,0.58],[3.78,0.44],[3.81,0.3],[3.84,0.16],[3.87,0.02],[3.91,-0.1],[3.97,-0.18],[4.05,-0.22],[4.13,-0.22],[4.21,-0.18],[4.29,-0.12],[4.37,-0.06],[4.45,-0.02],[4.53,0.0],[4.61,-0.01],[4.69,-0.04],[4.77,-0.08],[4.85,-0.12],[4.93,-0.16],[5.01,-0.2],[5.09,-0.24],[5.17,-0.28],[5.25,-0.33],[5.33,-0.36],[5.41,-0.3],[5.47,-0.2],[5.52,-0.06],[5.57,0.08],[5.61,0.22],[5.65,0.36],[5.69,0.48],[5.73,0.58],[5.76,0.63]],
  [[5.58,0.25],[5.55,0.32]],
  [[3.4,-0.42],[3.48,-0.36],[3.56,-0.32],[3.64,-0.3],[3.72,-0.3],[3.8,-0.32],[3.88,-0.35],[3.96,-0.38],[4.04,-0.4],[4.12,-0.42],[4.2,-0.43],[4.28,-0.44],[4.36,-0.45],[4.44,-0.46],[4.52,-0.46],[4.6,-0.46],[4.68,-0.46],[4.76,-0.45],[4.84,-0.44],[4.92,-0.42],[5.0,-0.39],[5.08,-0.34],[5.15,-0.27],[5.22,-0.18],[5.27,-0.08],[5.28,0.02],[5.22,0.07],[5.15,0.04],[5.11,-0.04],[5.1,-0.14]],
  [[3.86,-0.16],[3.92,-0.22],[3.98,-0.32],[4.01,-0.44],[4.0,-0.56],[3.95,-0.64],[3.88,-0.64],[3.84,-0.56],[3.83,-0.44],[3.85,-0.32]],
  [[3.58,-0.7],[3.66,-0.74],[3.74,-0.77],[3.82,-0.78],[3.9,-0.77],[3.98,-0.74],[4.06,-0.71],[4.14,-0.68],[4.22,-0.66],[4.3,-0.64],[4.38,-0.62],[4.46,-0.61],[4.54,-0.61],[4.62,-0.62],[4.7,-0.63],[4.78,-0.65],[4.86,-0.67],[4.94,-0.7],[5.02,-0.73],[5.1,-0.76],[5.18,-0.79],[5.26,-0.8],[5.34,-0.79],[5.42,-0.76],[5.5,-0.72],[5.58,-0.67],[5.66,-0.62],[5.74,-0.56],[5.82,-0.5],[5.9,-0.45],[5.98,-0.4],[6.06,-0.35],[6.14,-0.3],[6.2,-0.26],[6.12,-0.22],[6.04,-0.18],[5.96,-0.14],[5.88,-0.12],[5.82,-0.16]],
  [[3.9,-1.06]], [[4.1,-1.05]], [[3.93,-1.4]], [[4.06,-1.39]], [[3.97,-1.5]], [[3.99,-1.57]], [[4.02,-1.54]]
];

const BLUE = '#1f77b4', ORANGE = '#ff7f0e', GREEN = '#2ca02c';
const TRAIN_FILL = 'rgba(31,119,180,0.5)';
const MINUS = '\u2212';

// separate strokes with a null point so the connecting line breaks
function joinStrokes(strokes) {
  const out = [];
  strokes.forEach((s, i) => {
    if (i > 0) out.push({x: s[0][0], y: null});
    s.forEach(p => out.push({x: p[0], y: p[1]}));
  });
  return out;
}

// left-pointing triangle marker
const leftTriangle = document.createElement('canvas');
leftTriangle.width = 15;
leftTriangle.height = 15;
(function () {
  const c = leftTriangle.getContext('2d');
  c.fillStyle = ORANGE;
  c.beginPath();
  c.moveTo(0.5, 7.5);
  c.lineTo(14.5, 0.5);
  c.lineTo(14.5, 14.5);
  c.closePath();
  c.fill();
})();

function setTicks(values) {
  return axis => { axis.ticks = values.map(v => ({value: v})); };
}

// fixed axis size, no extra room for the outer tick labels
function fixSize(prop, size) {
  return s => {
    s[prop] = size;
    s.paddingTop = s.paddingBottom = s.paddingLeft = s.paddingRight = 0;
  };
}

function supText(ctx, base, sup, x, y, size, supSize, align) {
  // draws base followed by a raised superscript, right- or left-aligned at x
  ctx.font = size + 'px ' + SERIF;
  const wb = ctx.measureText(base).width;
  ctx.font = supSize + 'px ' + SERIF;
  const ws = ctx.measureText(sup).width;
  const x0 = align === 'right' ? x - wb - ws - 1 : x;
  ctx.textAlign = 'left';
  ctx.textBaseline = 'alphabetic';
  ctx.font = size + 'px ' + SERIF;
  ctx.fillText(base, x0, y);
  ctx.font = supSize + 'px ' + SERIF;
  ctx.fillText(sup, x0 + wb + 1, y - size * 0.36);
  return x0 + wb + 1 + ws;
}

const framePlugin = {
  id: 'frame',
  afterDatasetsDraw(chart) {
    const {ctx, chartArea: a} = chart;
    ctx.save();
    ctx.strokeStyle = '#000';
    ctx.lineWidth = 1.5;
    ctx.strokeRect(a.left, a.top, a.right - a.left, a.bottom - a.top);
    ctx.restore();
  }
};

const captionPlugin = {
  id: 'caption',
  afterDraw(chart, args, opts) {
    const ctx = chart.ctx;
    ctx.save();
    ctx.font = 'bold 28px ' + SERIF;
    ctx.fillStyle = '#000';
    ctx.textAlign = 'center';
    ctx.textBaseline = 'alphabetic';
    ctx.fillText(opts.text, opts.x, opts.y);
    ctx.restore();
  }
};

const logAxisPlugin = {
  id: 'logAxis',
  afterDraw(chart) {
    const {ctx, chartArea: a} = chart;
    const y = chart.scales.y;
    ctx.save();
    ctx.strokeStyle = '#000';
    lossMinorTicks.forEach(v => {
      const py = y.getPixelForValue(v);
      ctx.lineWidth = 1;
      ctx.beginPath();
      ctx.moveTo(a.left, py);
      ctx.lineTo(a.left - 4, py);
      ctx.stroke();
    });
    ctx.fillStyle = '#000';
    lossMajorTicks.forEach(v => {
      const py = y.getPixelForValue(v);
      ctx.lineWidth = 1.3;
      ctx.beginPath();
      ctx.moveTo(a.left, py);
      ctx.lineTo(a.left - 6.5, py);
      ctx.stroke();
      const exp = Math.round(Math.log10(v));
      supText(ctx, '10', MINUS + Math.abs(exp), a.left - 15, py + 8, 24, 17, 'right');
    });
    ctx.restore();
  }
};

const legendPlugin = {
  id: 'trajLegend',
  afterDatasetsDraw(chart) {
    const {ctx, chartArea: a} = chart;
    const x0 = a.left + 72.7, x1 = a.right - 12.6;
    const y0 = a.top + 321.7, y1 = a.bottom - 12.6;
    ctx.save();
    ctx.fillStyle = 'rgba(255,255,255,0.8)';
    ctx.strokeStyle = '#d0d0d0';
    ctx.lineWidth = 1.3;
    ctx.beginPath();
    ctx.roundRect(x0, y0, x1 - x0, y1 - y0, 4);
    ctx.fill();
    ctx.stroke();

    const mx = x0 + 33.3, tx = x0 + 78.3;
    const rows = [y0 + 19, y0 + 52.6, y0 + 85];
    ctx.fillStyle = TRAIN_FILL;
    ctx.beginPath();
    ctx.arc(mx, rows[0], 4.2, 0, Math.PI * 2);
    ctx.fill();
    ctx.drawImage(leftTriangle, mx - 7.5, rows[1] - 7.5);
    ctx.fillStyle = GREEN;
    ctx.beginPath();
    ctx.arc(mx, rows[2], 7.5, 0, Math.PI * 2);
    ctx.fill();

    ctx.fillStyle = '#000';
    ctx.textAlign = 'left';
    ctx.textBaseline = 'alphabetic';
    ctx.font = TEXT_SIZE + 'px ' + SERIF;
    ctx.fillText('training data', tx, rows[0] + 6.5);
    ctx.fillText('trajectory on NHIM', tx, rows[1] + 6.5);
    let x = supText(ctx, 'trajectory with 10', MINUS + '2', tx, rows[2] + 6.5, TEXT_SIZE, 18, 'left');
    ctx.font = TEXT_SIZE + 'px ' + SERIF;
    ctx.fillText(' offset in ', x, rows[2] + 6.5);
    x += ctx.measureText(' offset in ').width;
    ctx.font = 'italic ' + TEXT_SIZE + 'px ' + SERIF;
    ctx.fillText('v', x, rows[2] + 6.5);
    x += ctx.measureText('v').width;
    ctx.font = 'italic 18px ' + SERIF;
    ctx.fillText('x', x, rows[2] + 10);
    ctx.restore();
  }
};

const axisGrid = {drawOnChartArea: false, tickLength: 6, tickWidth: 1.3, tickColor: '#000'};
const titleFont = {size: TEXT_SIZE};

new Chart(document.getElementById('lossChart'), {
  type: 'line',
  data: {
    datasets: [{
      data: epochs.map((e, i) => ({x: e, y: lossValues[i]})),
      borderColor: BLUE,
      borderWidth: 2.7,
      pointRadius: 0,
      tension: 0
    }]
  },
  options: {
    responsive: false,
    animation: false,
    events: [],
    layout: {padding: {left: 0, top: 18, right: 24.3, bottom: 0}},
    plugins: {
      legend: {display: false},
      tooltip: {enabled: false},
      caption: {text: '(a)', x: 294, y: 555}
    },
    scales: {
      x: {
        type: 'linear', min: -0.1, max: 2.1,
        afterBuildTicks: setTicks(epochTicks),
        afterFit: fixSize('height', 119),
        grid: axisGrid,
        border: {display: false},
        ticks: {padding: 5, maxRotation: 0, callback: v => v.toFixed(1)},
        title: {display: true, text: 'Epoch Number', font: titleFont, padding: {top: 0, bottom: 50.3}}
      },
      y: {
        type: 'logarithmic', min: 2.96e-4, max: 0.0199, bounds: 'data',
        afterFit: fixSize('width', 100),
        grid: {display: false},
        border: {display: false},
        ticks: {display: false},
        title: {display: true, text: 'Loss Magnitude', font: titleFont, padding: {top: 2.9, bottom: 0}}
      }
    }
  },
  plugins: [framePlugin, logAxisPlugin, captionPlugin]
});

new Chart(document.getElementById('rateChart'), {
  type: 'scatter',
  data: {
    datasets: [
      {
        label: 'trajectory with offset',
        data: joinStrokes(offsetTrajectory),
        showLine: true,
        borderColor: GREEN,
        backgroundColor: GREEN,
        borderWidth: 15,
        borderCapStyle: 'round',
        borderJoinStyle: 'round',
        pointRadius: 8,
        pointBorderWidth: 0,
        order: 1
      },
      {
        label: 'trajectory on NHIM',
        data: joinStrokes(nhimTrajectory),
        showLine: true,
        borderColor: ORANGE,
        backgroundColor: ORANGE,
        borderWidth: 6,
        borderJoinStyle: 'round',
        pointStyle: leftTriangle,
        pointRadius: 8,
        pointBorderWidth: 0,
        order: 2
      },
      {
        label: 'training data',
        data: trainingPoints.map(p => ({x: p[0], y: p[1]})),
        backgroundColor: TRAIN_FILL,
        borderWidth: 0,
        pointBorderWidth: 0,
        pointRadius: 5,
        order: 3
      }
    ]
  },
  options: {
    responsive: false,
    animation: false,
    events: [],
    layout: {padding: {left: 0, top: 10, right: 14, bottom: 0}},
    plugins: {
      legend: {display: false},
      tooltip: {enabled: false},
      caption: {text: '(b)', x: 294.5, y: 555}
    },
    scales: {
      x: {
        type: 'linear', min: 2.104, max: 6.79,
        afterBuildTicks: setTicks(rateTicks),
        afterFit: fixSize('height', 108.7),
        grid: axisGrid,
        border: {display: false},
        ticks: {padding: 4.7, maxRotation: 0, callback: v => String(v)},
        title: {display: true, text: 'instantaneous rates', font: titleFont, padding: {top: 0, bottom: 40.3}}
      },
      y: {
        type: 'linear', min: -3.946, max: 2.946,
        afterBuildTicks: setTicks(errorTicks),
        afterFit: fixSize('width', 84),
        grid: axisGrid,
        border: {display: false},
        ticks: {padding: 7.3, callback: v => v < 0 ? MINUS + Math.abs(v) : String(v)},
        title: {display: true, text: 'percentage error in instantaneous rates', font: titleFont, padding: {top: 4.8, bottom: 0}}
      }
    }
  },
  plugins: [framePlugin, legendPlugin, captionPlugin]
});
</script>
</body>
</html>
